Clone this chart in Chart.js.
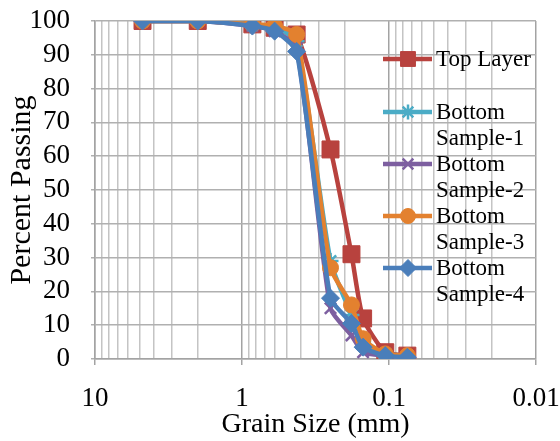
<!DOCTYPE html>
<html>
<head>
<meta charset="utf-8">
<script src="https://cdn.jsdelivr.net/npm/chart.js@4.4.1/dist/chart.umd.min.js"></script>
<style>
  html, body { margin: 0; padding: 0; background: #fff; }
  #wrap { width: 560px; height: 441px; }
</style>
</head>
<body>
<div id="wrap"><canvas id="gradation" width="560" height="441"></canvas></div>
<script>
// sieve sizes (mm) and percent passing for each sample
const grainSize = [4.75, 2.0, 0.85, 0.6, 0.425, 0.25, 0.18, 0.15, 0.106, 0.075];
const topLayer = [100, 100, 99, 98, 96, 62, 31, 12, 2, 1];
const bottomSample1 = [100, 100, 99, 98, 94, 29, 13, 5, 1.5, 1];
const bottomSample2 = [100, 100, 98.5, 97, 92, 15, 7, 2, 1, 0.5];
const bottomSample3 = [100, 100, 99, 98.5, 96, 27, 16, 6, 1.5, 1];
const bottomSample4 = [100, 100, 98.5, 97, 91, 18, 10.5, 3.5, 1, 0.5];

// log axis grid positions, labelled only at the decades
const xGridValues = [10, 9, 8, 7, 6, 5, 4, 3, 2, 1,
  0.9, 0.8, 0.7, 0.6, 0.5, 0.4, 0.3, 0.2, 0.1,
  0.09, 0.08, 0.07, 0.06, 0.05, 0.04, 0.03, 0.02, 0.01];
const xTickLabels = ['10', '1', '0.1', '0.01'];

const FONT = "'Liberation Serif', 'Times New Roman', serif";

const series = [
  { label: 'Top Layer', data: topLayer, color: '#B8423E', style: 'rect', radius: 12 },
  { label: 'Bottom Sample-1', data: bottomSample1, color: '#4BACC6', style: 'star', radius: 8 },
  { label: 'Bottom Sample-2', data: bottomSample2, color: '#7D5FA0', style: 'crossRot', radius: 8 },
  { label: 'Bottom Sample-3', data: bottomSample3, color: '#E3812F', style: 'circle', radius: 8 },
  { label: 'Bottom Sample-4', data: bottomSample4, color: '#4A7EBA', style: 'rectRot', radius: 9 }
];

const isDecade = v => Math.abs(Math.log10(v) - Math.round(Math.log10(v))) < 1e-9;
const thinMarker = style => style === 'star' || style === 'crossRot';

const datasets = series.map((s, i) => ({
  label: s.label,
  data: grainSize.map((g, j) => ({ x: g, y: s.data[j] })),
  borderColor: s.color,
  backgroundColor: s.color,
  borderWidth: 4.5,
  pointStyle: s.style,
  pointRadius: s.radius,
  pointBorderWidth: thinMarker(s.style) ? 2.5 : 1,
  pointBorderColor: s.color,
  pointBackgroundColor: s.color,
  tension: 0.2,
  order: series.length - i
}));

// legend drawn inside the plot, with two-line labels
const sideLegend = {
  id: 'sideLegend',
  afterDraw(chart) {
    const ctx = chart.ctx;
    const rows = [59, 112, 164, 216, 268];
    ctx.save();
    series.forEach((s, i) => {
      const y = rows[i];
      ctx.strokeStyle = s.color;
      ctx.fillStyle = s.color;
      ctx.lineWidth = 4.5;
      ctx.beginPath();
      ctx.moveTo(383, y);
      ctx.lineTo(432, y);
      ctx.stroke();
      ctx.lineWidth = thinMarker(s.style) ? 2.5 : 1;
      Chart.helpers.drawPoint(ctx, {
        pointStyle: s.style,
        radius: s.style === 'rect' ? 10.5 : s.radius - 0.5,
        rotation: 0,
        borderWidth: ctx.lineWidth
      }, 408, y);
      ctx.fillStyle = '#000';
      ctx.font = '23px ' + FONT;
      ctx.textBaseline = 'middle';
      ctx.textAlign = 'left';
      const words = s.label.startsWith('Bottom') ? ['Bottom', s.label.slice(7)] : [s.label];
      words.forEach((w, k) => ctx.fillText(w, 436, y + 1 + k * 26));
    });
    ctx.restore();
  }
};

new Chart(document.getElementById('gradation'), {
  type: 'line',
  data: { datasets },
  plugins: [sideLegend],
  options: {
    responsive: false,
    animation: false,
    devicePixelRatio: 1,
    layout: { autoPadding: false, padding: { top: 21, right: 24, left: 0, bottom: 0 } },
    plugins: {
      legend: { display: false },
      tooltip: { enabled: false }
    },
    scales: {
      x: {
        type: 'logarithmic',
        reverse: true,
        min: 0.01,
        max: 10,
        afterBuildTicks: scale => {
          scale.ticks = xGridValues.map(v => ({ value: v }));
        },
        afterFit: scale => {
          scale.height = 82;
          scale.paddingLeft = 0;
          scale.paddingRight = 0;
        },
        ticks: {
          autoSkip: false,
          maxRotation: 0,
          padding: 18,
          color: '#000',
          font: { family: FONT, size: 27 },
          callback: v => isDecade(v) ? xTickLabels[Math.round(1 - Math.log10(v))] : ''
        },
        grid: {
          color: ctx => isDecade(ctx.tick.value) ? '#a3a3a3' : '#c4c4c4',
          lineWidth: 1.5,
          tickLength: 6,
          tickColor: ctx => isDecade(ctx.tick.value) ? '#a3a3a3' : 'rgba(0,0,0,0)'
        },
        border: { color: '#a3a3a3', width: 1.5 },
        title: {
          display: true,
          text: 'Grain Size (mm)',
          color: '#000',
          font: { family: FONT, size: 28 },
          padding: { top: 0, bottom: 0 }
        }
      },
      y: {
        min: 0,
        max: 100,
        afterFit: scale => {
          scale.width = 95;
          scale.paddingTop = 0;
          scale.paddingBottom = 0;
        },
        ticks: {
          autoSkip: false,
          stepSize: 10,
          padding: 21,
          color: '#000',
          font: { family: FONT, size: 27 }
        },
        grid: {
          color: '#b0b0b0',
          lineWidth: 1.5,
          tickLength: 4
        },
        border: { color: '#a3a3a3', width: 1.5 },
        title: {
          display: true,
          text: 'Percent Passing',
          color: '#000',
          font: { family: FONT, size: 30 },
          padding: { top: 4, bottom: 0 }
        }
      }
    }
  }
});
</script>
</body>
</html>
